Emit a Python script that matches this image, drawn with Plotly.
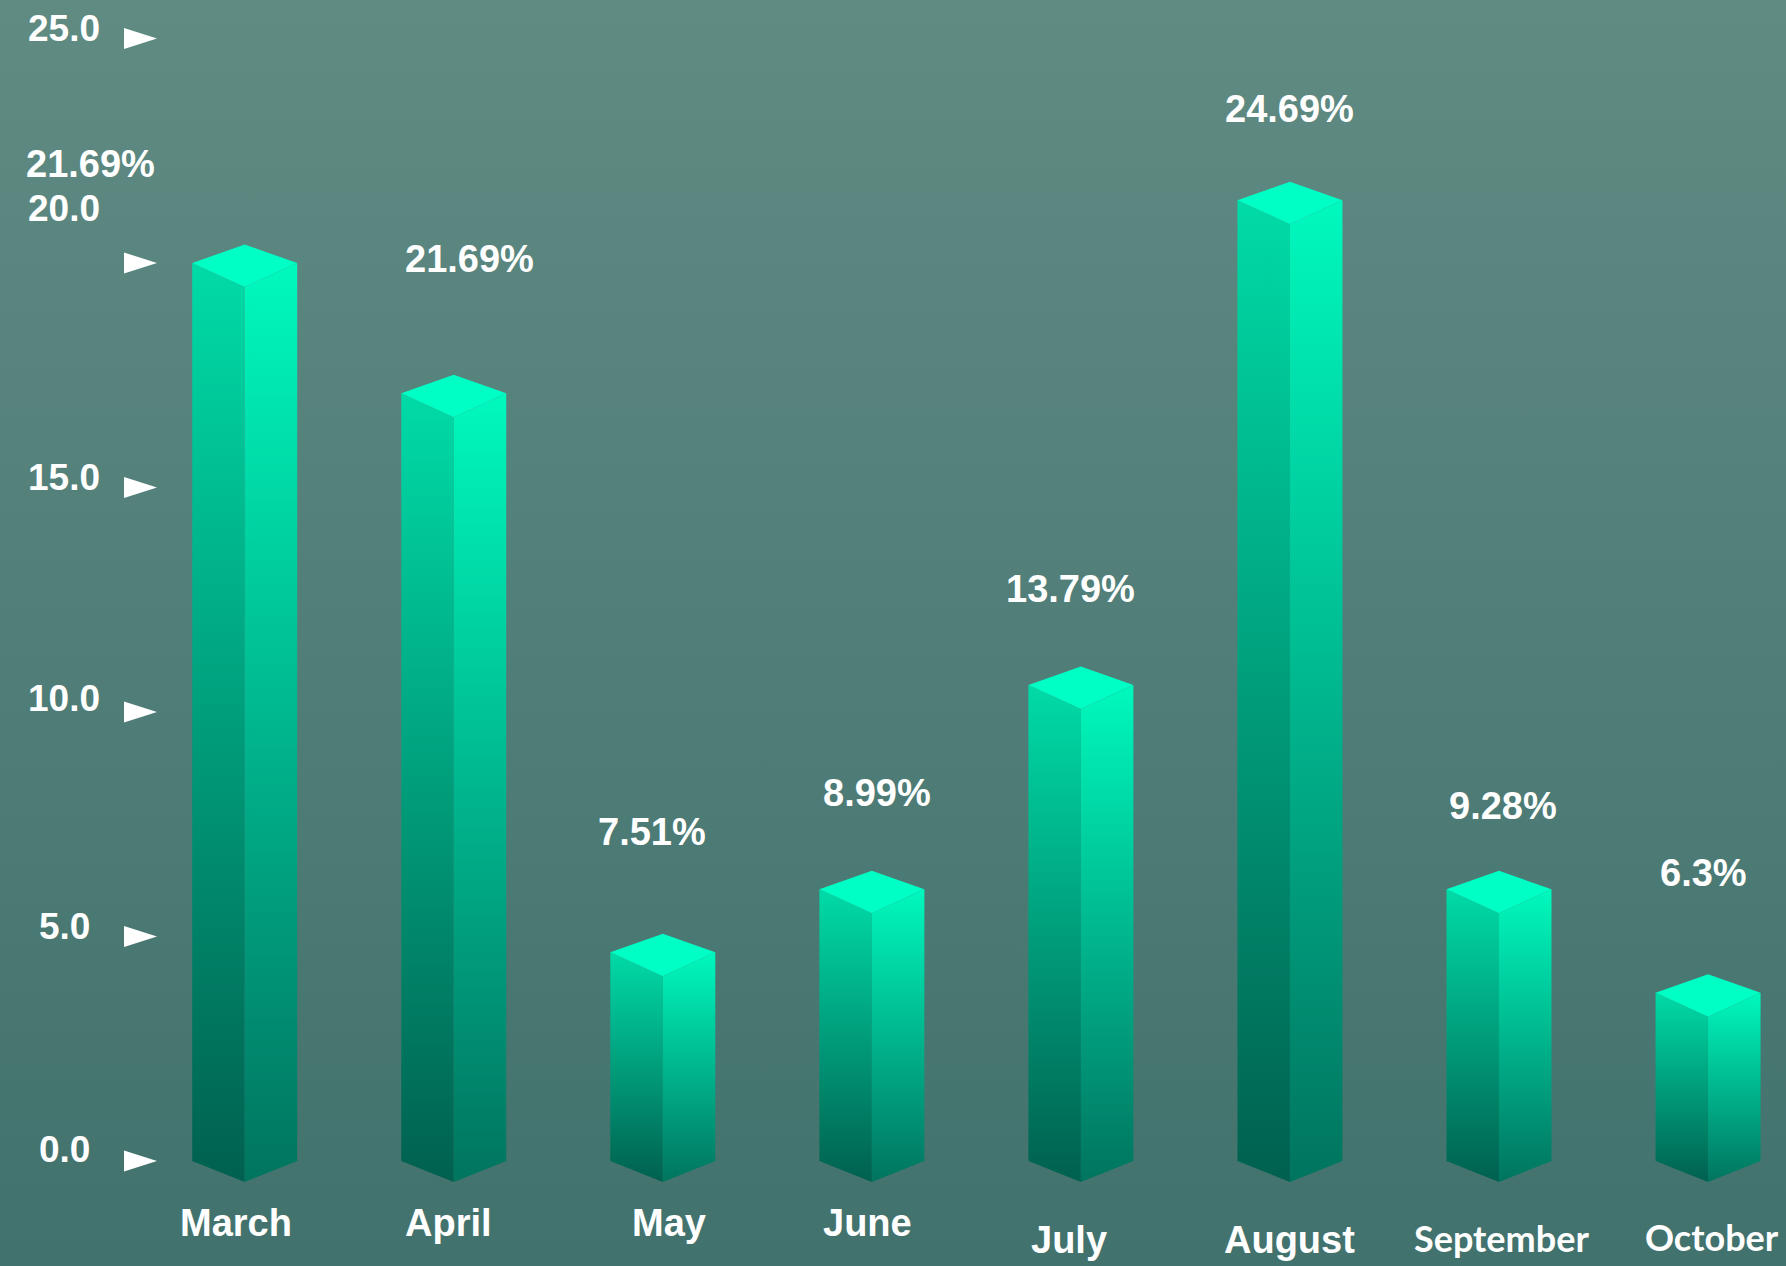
import plotly.graph_objects as go

# ---------------- data ----------------
categories = ["March", "April", "May", "June", "July", "August", "September", "October"]
bar_values = [20.0, 17.1, 4.65, 6.05, 10.6, 21.4, 6.05, 3.75]
label_texts = ["21.69%", "21.69%", "7.51%", "8.99%", "13.79%", "24.69%", "9.28%", "6.3%"]
y_ticks = [0, 5, 10, 15, 20, 25]
y_tick_labels = ["0.0", "5.0", "10.0", "15.0", "20.0", "25.0"]

# ---------------- geometry / style ----------------
W, H = 1786, 1266
X0_PX, X_STEP = 244.7, 209.05      # pixel of first category, pixels per category
Y0_PX, Y_UNIT = 1161.0, 44.9       # pixel of y=0, pixels per unit

x_range = [-X0_PX / X_STEP, (W - X0_PX) / X_STEP]
y_range = [-(H - Y0_PX) / Y_UNIT, Y0_PX / Y_UNIT]


def ux(px):
    return px / X_STEP


def uy(px):
    return px / Y_UNIT


HALF_W = ux(52.5)
FRONT_TOP = uy(24)
FRONT_BOT = uy(21)
BACK = uy(18.5)

LEFT_SCALE = [[0, "#00604F"], [1, "#00DBA7"]]
RIGHT_SCALE = [[0, "#00745F"], [1, "#00F9BE"]]
TOP_COLOR = "#00FFC4"

label_dx = [-154, 16, -11, 5, -10, 0, 4, -5]
label_dy = [99, 134, 120, 96, 96, 91, 83, 120]
xlab_dx = [-9, -5, 6, -4, -12, 0, 2, 4]
xlab_dy = [-62, -62, -62, -62, -79, -79, -77, -76]
xlab_font = ["Liberation Sans"] * 6 + ["Lato", "Lato"]
xlab_size = [38] * 6 + [36, 36]
tick_dy = [12, 10, 14, 10, 55, 10]

fig = go.Figure()

# background gradient
fig.add_trace(go.Scatter(
    x=[x_range[0], x_range[1], x_range[1], x_range[0], x_range[0]],
    y=[y_range[0], y_range[0], y_range[1], y_range[1], y_range[0]],
    mode="lines", line=dict(width=0), fill="toself",
    fillgradient=dict(type="vertical",
                      colorscale=[[0, "#42726D"], [0.5, "#517E78"], [1, "#5F8B83"]]),
    hoverinfo="skip", showlegend=False))

# 3D prism bars
for i, v in enumerate(bar_values):
    c = i
    l, r = c - HALF_W, c + HALF_W
    fig.add_trace(go.Scatter(
        x=[l, l, c, c, l], y=[0, v, v - FRONT_TOP, -FRONT_BOT, 0],
        mode="lines", line=dict(width=0), fill="toself",
        fillgradient=dict(type="vertical", colorscale=LEFT_SCALE),
        hoverinfo="skip", showlegend=False))
    fig.add_trace(go.Scatter(
        x=[c, c, r, r, c], y=[-FRONT_BOT, v - FRONT_TOP, v, 0, -FRONT_BOT],
        mode="lines", line=dict(width=0), fill="toself",
        fillgradient=dict(type="vertical", colorscale=RIGHT_SCALE),
        hoverinfo="skip", showlegend=False))
    fig.add_trace(go.Scatter(
        x=[l, c, r, c, l], y=[v, v + BACK, v, v - FRONT_TOP, v],
        mode="lines", line=dict(width=0), fill="toself", fillcolor=TOP_COLOR,
        hoverinfo="skip", showlegend=False))

# tick arrows
ax, ay = [], []
x_back = x_range[0] + ux(124)
x_tip = x_range[0] + ux(157)
for t in y_ticks:
    ax += [x_back, x_back, x_tip, x_back, None]
    ay += [t - uy(10.5), t + uy(10.5), t, t - uy(10.5), None]
fig.add_trace(go.Scatter(x=ax, y=ay, mode="lines", line=dict(width=0),
                         fill="toself", fillcolor="white",
                         hoverinfo="skip", showlegend=False))

ann = []
for t, txt, d in zip(y_ticks, y_tick_labels, tick_dy):
    ann.append(dict(x=x_range[0], y=t, xshift=64, yshift=d, text=f"<b>{txt}</b>",
                    showarrow=False, xanchor="center", yanchor="middle",
                    font=dict(family="Liberation Sans, Arial", size=37, color="white")))
for i, (v, txt) in enumerate(zip(bar_values, label_texts)):
    ann.append(dict(x=i, y=v, xshift=label_dx[i], yshift=label_dy[i], text=f"<b>{txt}</b>",
                    showarrow=False, xanchor="center", yanchor="middle",
                    font=dict(family="Liberation Sans, Arial", size=38, color="white")))
for i, cat in enumerate(categories):
    ann.append(dict(x=i, y=0, xshift=xlab_dx[i], yshift=xlab_dy[i], text=f"<b>{cat}</b>",
                    showarrow=False, xanchor="center", yanchor="middle",
                    font=dict(family=xlab_font[i], size=xlab_size[i], color="white")))

shapes = [dict(type="path", xref="paper", yref="paper",
               path="M 0 1 L 0.5286 1 L 0.5286 0.978 Q 0.5286 0.954 0.493 0.954 L 0 0.954 Z",
               fillcolor="rgba(255,255,255,0.045)", line=dict(width=0), layer="below")]

fig.update_layout(
    width=W, height=H, margin=dict(l=0, r=0, t=0, b=0),
    paper_bgcolor="#4A7772", plot_bgcolor="#4A7772",
    xaxis=dict(visible=False, range=x_range, fixedrange=True),
    yaxis=dict(visible=False, range=y_range, fixedrange=True),
    showlegend=False, annotations=ann, shapes=shapes)

fig.write_html("out.html", config={"displayModeBar": False},
               post_script="document.body.style.margin='0';")
